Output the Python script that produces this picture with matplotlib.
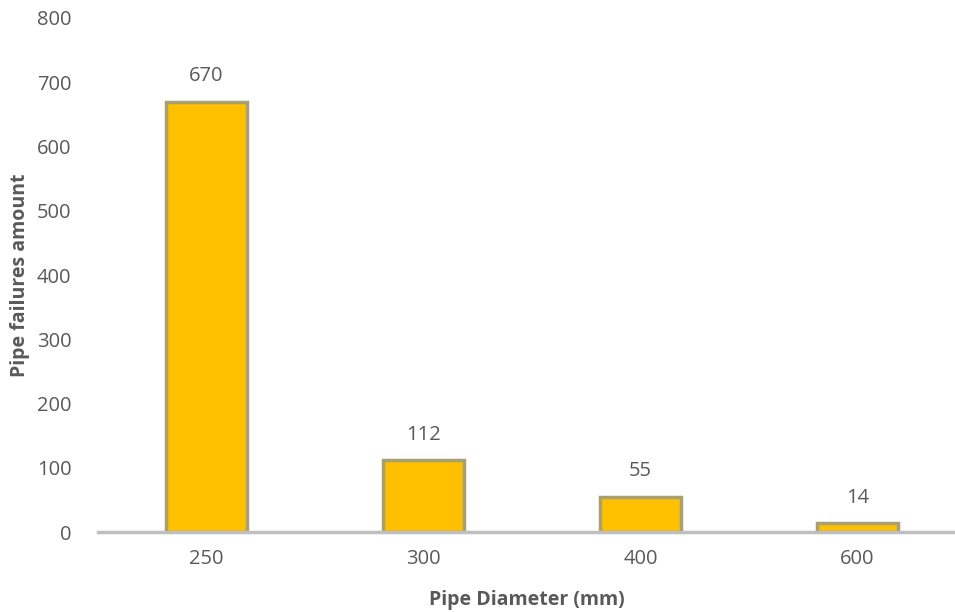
import matplotlib.pyplot as plt

diameters = ['250', '300', '400', '600']
failures = [670, 112, 55, 14]
yticks = [0, 100, 200, 300, 400, 500, 600, 700, 800]

plt.rcParams['font.family'] = ['Open Sans', 'DejaVu Sans']
grey = '#595959'

fig = plt.figure(figsize=(9.55, 6.12), dpi=100)
ax = fig.add_axes([0.1026, 0.1307, 0.8974, 0.8399])

x = range(len(diameters))
bars = ax.bar(x, failures, width=0.37, color='#FFC000', edgecolor='#A8A070',
              linewidth=2.5, zorder=2)
for b in bars:
    b.set_joinstyle('miter')

for i, v in enumerate(failures):
    ax.annotate(str(v), (i, v), xytext=(0, 11), textcoords='offset points',
                ha='center', va='bottom', fontsize=14.5, color=grey)

ax.set_xlim(-0.5, 3.45)
ax.set_ylim(0, 800)
ax.set_xticks(list(x))
ax.set_xticklabels(diameters)
ax.set_yticks(yticks)
ax.tick_params(length=0, labelsize=14.5, labelcolor=grey, pad=12)
ax.tick_params(axis='y', pad=19)

for s in ['top', 'right', 'left']:
    ax.spines[s].set_visible(False)
ax.spines['bottom'].set_color('#BFBFBF')
ax.spines['bottom'].set_linewidth(2.5)
ax.spines['bottom'].set_zorder(4)

ax.set_xlabel('Pipe Diameter (mm)', fontsize=14, fontweight='bold',
              color=grey, labelpad=15)
ax.set_ylabel('Pipe failures amount', fontsize=14, fontweight='bold',
              color=grey, labelpad=5)

fig.savefig('out.png', dpi=100)
